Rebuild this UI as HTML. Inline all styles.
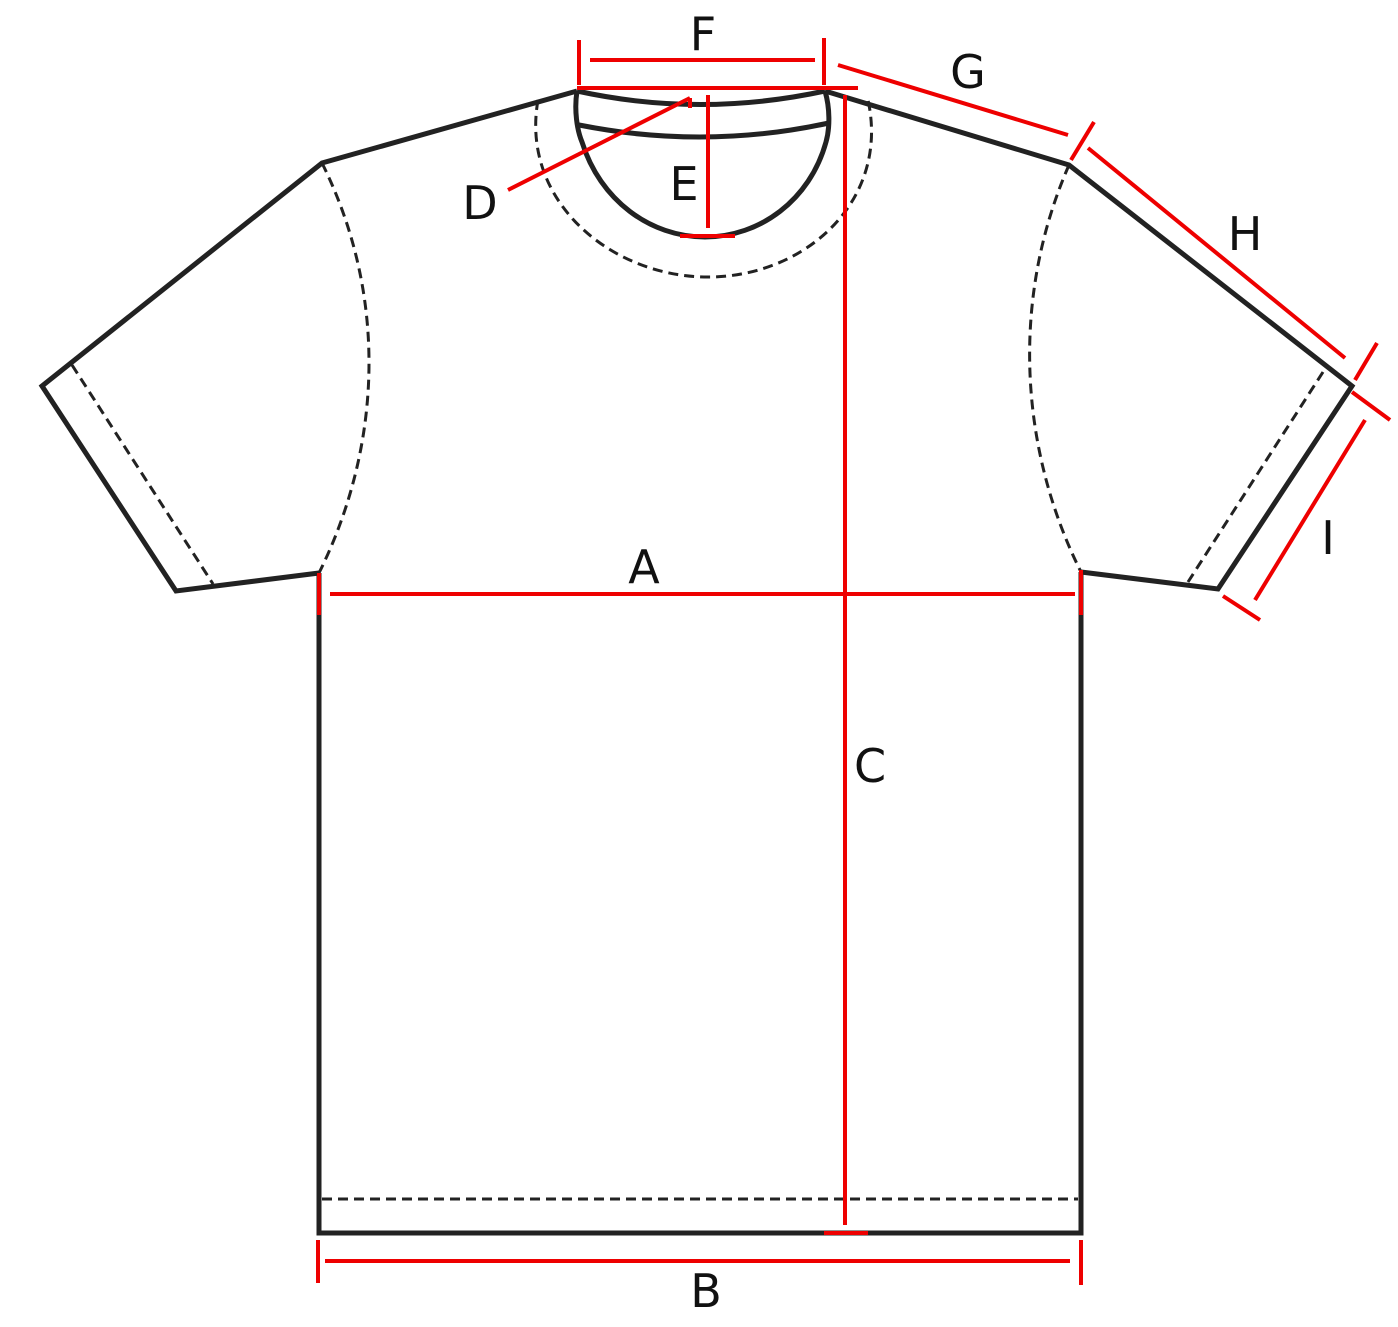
<!DOCTYPE html>
<html><head><meta charset="utf-8"><style>
html,body{margin:0;padding:0;background:#fff;}
svg{display:block;}
text{font-family:"DejaVu Sans","Liberation Sans",sans-serif;font-size:46px;fill:#111;text-anchor:middle;}
</style></head><body>
<svg width="1398" height="1327" viewBox="0 0 1398 1327">
<g fill="none" stroke="#222" stroke-width="5" stroke-linejoin="miter">
<path d="M319,573 L319,1233 L1081,1233 L1081,572"/>
<path d="M577,91 L322,163 L42,386 L176,591 L319,573"/>
<path d="M825,91 L1069,165 L1352,386 L1218,589 L1081,572"/>
<path d="M577,91 Q700,118 825,91"/>
<path d="M579,125 Q705,150 829,123"/>
<path d="M577,91 C574,110 577,130 582,142 C600,200 650,237 705,237 C760,237 810,200 826,142 C830,128 830,108 825,91"/>
</g>
<g fill="none" stroke="#222" stroke-width="3" stroke-dasharray="10,6">
<path d="M538,100 C520,200 610,277 708,277 C806,277 890,200 868,100"/>
<path d="M322,163 C390,300 380,450 319,573"/>
<path d="M1069,165 C1010,300 1020,450 1081,572"/>
<path d="M72,365 L213,584"/>
<path d="M1323,372 L1188,582"/>
<path d="M322,1199 L1078,1199"/>
</g>
<g stroke="#e00" stroke-width="4" fill="none">
<path d="M330,594 L1075,594"/>
<path d="M319,573 L319,615"/>
<path d="M1081,570 L1081,615"/>
<path d="M325,1261 L1070,1261"/>
<path d="M318,1240 L318,1283"/>
<path d="M1081,1240 L1081,1285"/>
<path d="M845,95 L845,1225"/>
<path d="M824,1233 L868,1233"/>
<path d="M590,60 L815,60"/>
<path d="M579,40 L579,85"/>
<path d="M824,38 L824,85"/>
<path d="M577,88 L858,88"/>
<path d="M708,95 L708,228"/>
<path d="M680,236 L735,236"/>
<path d="M508,190 L690,98"/>
<path d="M690,98 L690,108"/>
<path d="M838,65 L1068,135"/>
<path d="M1071,160 L1094,122"/>
<path d="M1088,148 L1345,358"/>
<path d="M1355,380 L1377,343"/>
<path d="M1365,420 L1255,600"/>
<path d="M1352,392 L1390,420"/>
<path d="M1223,596 L1260,620"/>
</g>
<text x="703" y="50">F</text>
<text x="968" y="88">G</text>
<text x="1245" y="250">H</text>
<text x="480" y="219">D</text>
<text x="684" y="200">E</text>
<text x="644" y="583">A</text>
<text x="870" y="782">C</text>
<text x="706" y="1307">B</text>
<text x="1328" y="554">I</text>
</svg>
</body></html>
